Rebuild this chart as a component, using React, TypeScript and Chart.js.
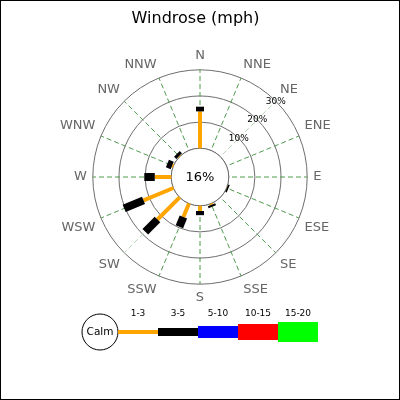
import React, { useEffect, useRef } from 'react';
import { Chart, registerables } from 'chart.js';

Chart.register(...registerables);

// ---- data ----
const directions = ['N', 'NNE', 'NE', 'ENE', 'E', 'ESE', 'SE', 'SSE', 'S', 'SSW', 'SW', 'WSW', 'W', 'WNW', 'NW', 'NNW'];
const speedBins = ['1-3', '3-5', '5-10', '10-15', '15-20'];
const calmPercent = 16;
const speed1to3 = [14.1, 0, 0, 0, 0, 0.1, 0, 0.5, 2.0, 5.6, 12.0, 12.4, 6.3, 0.5, 0.3, 0];
const speed3to5 = [1.8, 0, 0, 0, 0, 0.6, 0, 0.8, 1.6, 4.0, 6.6, 8.0, 4.0, 2.0, 1.2, 0];
const speed5to10 = [0, 0, 0, 0, 0, 0, 0, 0, 0, 0, 0, 0, 0, 0, 0, 0];
const speed10to15 = [0, 0, 0, 0, 0, 0, 0, 0, 0, 0, 0, 0, 0, 0, 0, 0];
const speed15to20 = [0, 0, 0, 0, 0, 0, 0, 0, 0, 0, 0, 0, 0, 0, 0, 0];
const ringTicks = [10, 20, 30];
const calmOffset = 11; // radial space (in % units) reserved for the calm circle

// ---- styles ----
const binColors = ['#ffa500', '#000000', '#0000ff', '#ff0000', '#00ff00'];
const binWidths = [4, 8, 12, 16, 20];
const FONT = "'DejaVu Sans', sans-serif";
const ringColor = '#6e6e6e';
const spokeColor = '#4f9a4f';
const spokeLight = '#b4d8b4';

const binSeries = [speed1to3, speed3to5, speed5to10, speed10to15, speed15to20];

function buildDatasets() {
  let acc = directions.map(() => 0);
  return binSeries.map((series, b) => {
    acc = acc.map((a, i) => a + series[i]);
    return {
      label: speedBins[b],
      data: [...acc],
      binValues: series,
      showLine: false,
      fill: false,
      pointRadius: 0,
      pointHoverRadius: 0,
      borderWidth: 0,
      borderColor: binColors[b],
      backgroundColor: binColors[b],
    };
  });
}

const backgroundPlugin = {
  id: 'bgFrame',
  beforeDraw(chart: any) {
    const { ctx, width, height } = chart;
    ctx.save();
    ctx.fillStyle = '#ffffff';
    ctx.fillRect(0, 0, width, height);
    ctx.restore();
  },
  afterDraw(chart: any) {
    const { ctx, width, height } = chart;
    ctx.save();
    ctx.strokeStyle = '#000';
    ctx.lineWidth = 1;
    ctx.strokeRect(0.5, 0.5, width - 1, height - 1);
    ctx.restore();
  },
};

const calmPlugin = {
  id: 'calm',
  beforeDatasetsDraw(chart: any) {
    const r = chart.scales.r;
    const ctx = chart.ctx;
    const rc = r.getDistanceFromCenterForValue(0);
    ctx.save();
    ctx.beginPath();
    ctx.arc(r.xCenter, r.yCenter, rc, 0, Math.PI * 2);
    ctx.fillStyle = '#fff';
    ctx.fill();
    ctx.strokeStyle = ringColor;
    ctx.lineWidth = 1;
    ctx.stroke();
    ctx.fillStyle = '#000';
    ctx.font = `13px ${FONT}`;
    ctx.textAlign = 'center';
    ctx.textBaseline = 'middle';
    ctx.fillText(`${calmPercent}%`, r.xCenter, r.yCenter + 1);
    // ring percentage labels along NE spoke
    ctx.font = `9px ${FONT}`;
    ringTicks.forEach((v) => {
      const p = r.getPointPositionForValue(2, v);
      ctx.fillText(`${v}%`, p.x, p.y);
    });
    ctx.restore();
  },
};

const barsPlugin = {
  id: 'windBars',
  afterDatasetsDraw(chart: any) {
    const r = chart.scales.r;
    const ctx = chart.ctx;
    ctx.save();
    ctx.lineCap = 'butt';
    chart.data.datasets.forEach((ds: any, d: number) => {
      const meta = chart.getDatasetMeta(d);
      meta.data.forEach((pt: any, i: number) => {
        if (!(ds.binValues[i] > 0)) return;
        const start = d === 0 ? r.getPointPositionForValue(i, 0) : chart.getDatasetMeta(d - 1).data[i];
        ctx.strokeStyle = binColors[d];
        ctx.lineWidth = binWidths[d];
        ctx.beginPath();
        ctx.moveTo(start.x, start.y);
        ctx.lineTo(pt.x, pt.y);
        ctx.stroke();
      });
    });
    ctx.restore();
  },
};

const legendPlugin = {
  id: 'windLegend',
  afterDraw(chart: any) {
    const ctx = chart.ctx;
    const cx = 100;
    const cy = 332;
    const rad = 18;
    const segW = 40;
    ctx.save();
    ctx.beginPath();
    ctx.arc(cx, cy, rad, 0, Math.PI * 2);
    ctx.fillStyle = '#fff';
    ctx.fill();
    ctx.strokeStyle = '#000';
    ctx.lineWidth = 1;
    ctx.stroke();
    ctx.fillStyle = '#000';
    ctx.font = `10.5px ${FONT}`;
    ctx.textAlign = 'center';
    ctx.textBaseline = 'middle';
    ctx.fillText('Calm', cx, cy);
    const x0 = cx + rad;
    speedBins.forEach((label, b) => {
      const x = x0 + b * segW;
      ctx.fillStyle = binColors[b];
      ctx.fillRect(x, cy - binWidths[b] / 2, segW, binWidths[b]);
      ctx.fillStyle = '#000';
      ctx.font = `9px ${FONT}`;
      ctx.fillText(label, x + segW / 2, cy - 18);
    });
    ctx.restore();
  },
};

export default function App() {
  const ref = useRef<HTMLCanvasElement>(null);
  useEffect(() => {
    document.body.style.margin = '0';
    if (!ref.current) return;
    const chart = new Chart(ref.current, {
      type: 'radar',
      data: { labels: directions, datasets: buildDatasets() as any },
      options: {
        responsive: false,
        animation: false,
        events: [],
        layout: { padding: { left: 55, right: 64, top: 0, bottom: 82 } },
        plugins: {
          legend: { display: false },
          tooltip: { enabled: false },
          title: {
            display: true,
            text: 'Windrose (mph)',
            color: '#000',
            font: { family: FONT, size: 16, weight: 'normal' },
            padding: { top: 9, bottom: 8 },
          },
        },
        scales: {
          r: {
            min: -calmOffset,
            max: ringTicks[ringTicks.length - 1],
            afterBuildTicks: (scale: any) => {
              scale.ticks = [-calmOffset, 0, ...ringTicks].map((v) => ({ value: v }));
            },
            ticks: { display: false },
            grid: {
              circular: true,
              color: (c: any) => (c.index === 0 ? 'rgba(0,0,0,0)' : ringColor),
              lineWidth: 1,
            },
            angleLines: {
              color: (c: any) => (c.index % 8 === 2 ? spokeLight : spokeColor),
              lineWidth: 1,
              borderDash: [5, 3],
            },
            pointLabels: {
              color: '#666',
              font: { family: FONT, size: 13 },
              padding: 6,
            },
          },
        },
      },
      plugins: [backgroundPlugin, calmPlugin, barsPlugin, legendPlugin],
    });
    return () => chart.destroy();
  }, []);
  return (
    <div style={{ width: 400, height: 400 }}>
      <canvas ref={ref} width={400} height={400} style={{ display: 'block' }} />
    </div>
  );
}
